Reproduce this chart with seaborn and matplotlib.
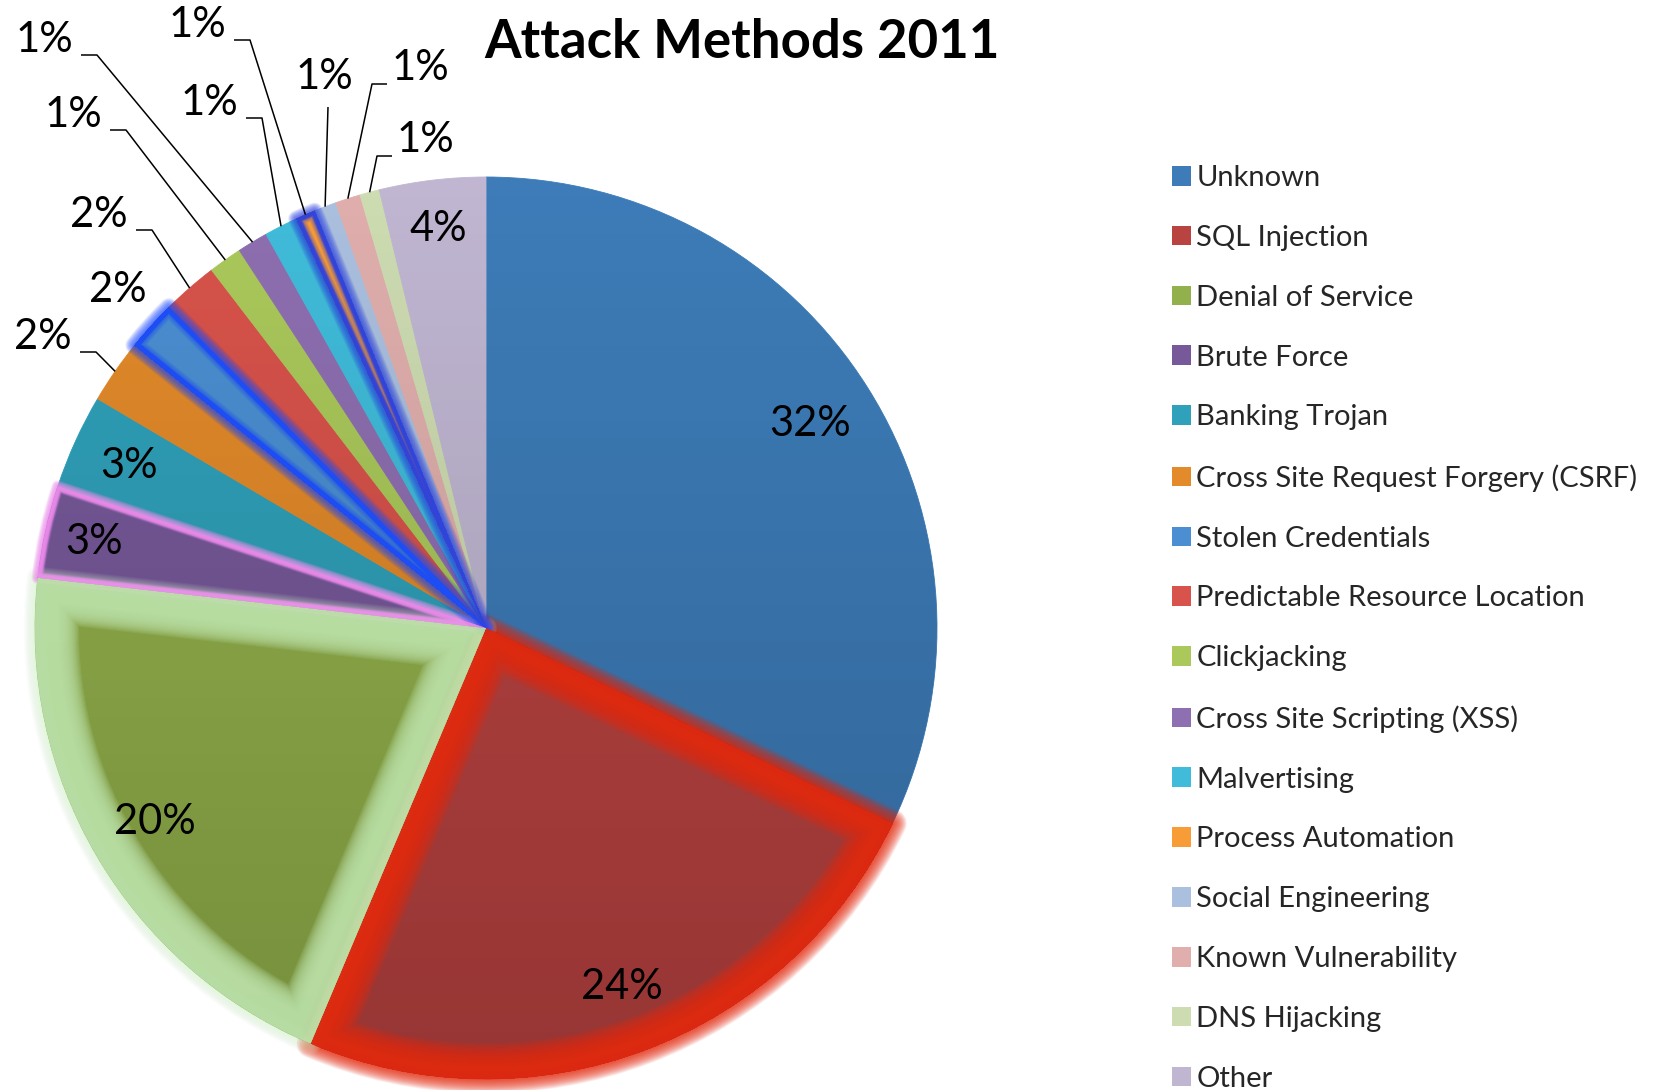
import numpy as np
import matplotlib
matplotlib.use("Agg")
import matplotlib.pyplot as plt
from matplotlib.patches import Wedge, Circle, Patch
import seaborn as sns

# ---------------- data ----------------
categories = ["Unknown", "SQL Injection", "Denial of Service", "Brute Force",
              "Banking Trojan", "Cross Site Request Forgery (CSRF)",
              "Stolen Credentials", "Predictable Resource Location",
              "Clickjacking", "Cross Site Scripting (XSS)", "Malvertising",
              "Process Automation", "Social Engineering", "Known Vulnerability",
              "DNS Hijacking", "Other"]
shares = [32.1, 24.2, 20.4, 3.3, 3.4, 2.3, 1.8, 2.0, 1.2, 1.1, 1.2, 0.7,
          0.8, 0.9, 0.7, 3.8]
colors = ["#3D7CB8", "#B94341", "#92B04B", "#77599A", "#2FA1BA", "#E38A2A",
          "#4B8FD2", "#D8534B", "#ABC95B", "#8E6FB1", "#40BCDA", "#F79C37",
          "#ABC0DF", "#E0AFAD", "#CEDCB2", "#C0B6D2"]
title = "Attack Methods 2011"

sns.set_theme(style="white")
plt.rcParams['font.family'] = ['Lato', 'DejaVu Sans']
palette = sns.color_palette(colors)

W, H = 1656, 1090
fig = plt.figure(figsize=(W / 100, H / 100), dpi=100)
CX, CY, R = 486, 628, 451
ax = fig.add_axes([(CX - R) / W, (H - CY - R) / H, 2 * R / W, 2 * R / H])


def px(x, y):
    return ((x - CX) / R, (CY - y) / R)


wedges, _ = ax.pie(shares, colors=palette, startangle=90, counterclock=False,
                   radius=1.0, center=(0, 0), frame=False,
                   wedgeprops=dict(linewidth=0.6))
ax.set_xlim(-1, 1)
ax.set_ylim(-1, 1)
ax.set_aspect("auto")
ax.axis("off")
for w, c in zip(wedges, palette):
    w.set_edgecolor(c)
    w.set_zorder(1)

# vertical shading (lighter on top, darker at the bottom)
grad = np.linspace(0, 1, 256).reshape(-1, 1)
shade = np.zeros((256, 1, 4))
shade[..., 3] = 0.19 * grad
img = ax.imshow(shade, extent=[-1, 1, -1, 1], origin="upper", aspect="auto",
                zorder=2, interpolation="bilinear")
img.set_clip_path(Circle((0, 0), 1.0, transform=ax.transData))
ax.set_xlim(-1, 1)
ax.set_ylim(-1, 1)

PT = 72 / 100  # points per pixel


def outline(w, lw, col, alpha, z, clip=None):
    g = Wedge(w.center, w.r, w.theta1, w.theta2, facecolor="none",
              edgecolor=col, linewidth=lw, alpha=alpha, joinstyle="round",
              zorder=z, clip_on=clip is not None)
    ax.add_patch(g)
    if clip is not None:
        g.set_clip_path(clip)


# glow effects: outer (px, colour, alpha/step) and inner (solid px, fade px, colour, alpha/step)
effects = {
    "SQL Injection": dict(outer=(14, "#E8280C", 0.07), inner=(10, 26, "#E22A10", 0.13)),
    "Denial of Service": dict(outer=(11, "#D6F6CE", 0.04), inner=(22, 22, "#BDE3AA", 0.13)),
    "Brute Force": dict(outer=(6, "#F090F0", 0.08), inner=(2, 3, "#F090F0", 0.1)),
    "Stolen Credentials": dict(outer=(9, "#1E4CFF", 0.06), inner=(2, 3, "#1E4CFF", 0.1)),
    "Process Automation": dict(outer=(8, "#2E44E6", 0.06), inner=(2, 3, "#2E44E6", 0.1)),
}
N = 20
for name in ["SQL Injection", "Denial of Service", "Brute Force",
             "Stolen Credentials", "Process Automation"]:
    eff = effects[name]
    w = wedges[categories.index(name)]
    d, col, a = eff["outer"]
    for i in range(N):
        lw = 2 * d * PT * (1 - i / N) + 0.5
        outline(w, lw, col, a, 3)
    s, f, col, a = eff["inner"]
    for i in range(N):
        lw = 2 * PT * (s + f * (1 - i / N))
        outline(w, lw, col, a, 3.5, clip=w)

# percentage labels
pct_labels = [f"{round(v):d}%" for v in shares]
inside = {"Unknown": 0.85, "SQL Injection": 0.85, "Denial of Service": 0.85,
          "Brute Force": 0.89, "Banking Trojan": 0.87, "Other": 0.89}
outside = {
    "Cross Site Scripting (XSS)": (44, 40, "L"),
    "Clickjacking": (73, 115, "L"),
    "Process Automation": (197, 25, "L"),
    "Malvertising": (209, 103, "L"),
    "Social Engineering": (324, 77, "T"),
    "Known Vulnerability": (420, 68, "R"),
    "DNS Hijacking": (425, 140, "R"),
    "Predictable Resource Location": (99, 215, "L"),
    "Cross Site Request Forgery (CSRF)": (43, 337, "L"),
    "Stolen Credentials": (118, 290, None),
}
FS = 30
for i, name in enumerate(categories):
    w = wedges[i]
    mid = np.deg2rad((w.theta1 + w.theta2) / 2)
    edge = (np.cos(mid), np.sin(mid))
    if name in inside:
        r = inside[name]
        ax.text(r * np.cos(mid), r * np.sin(mid), pct_labels[i], ha="center",
                va="center", fontsize=FS, color="black", zorder=6)
    else:
        x, y, kind = outside[name]
        tx, ty = px(x, y)
        ax.text(tx, ty, pct_labels[i], ha="center", va="center", fontsize=FS,
                color="black", zorder=6, clip_on=False)
        if kind == "L":
            pts = [px(x + 37, y + 15), px(x + 53, y + 15), edge]
        elif kind == "R":
            pts = [px(x - 33, y + 16), px(x - 48, y + 16), edge]
        elif kind == "T":
            pts = [px(x + 4, y + 30), edge]
        else:
            continue
        xs, ys = zip(*pts)
        ax.plot(xs, ys, color="black", lw=1.1, zorder=5, clip_on=False,
                solid_capstyle="butt")

# title
fig.text(742 / W, 1 - 43 / H, title, ha="center", va="center", fontsize=38,
         fontweight="bold", color="black")

# legend
handles = [Patch(facecolor=c, edgecolor="none") for c in palette]
fig.legend(handles, categories, loc="upper left",
           bbox_to_anchor=(1172 / W, 1 - 165 / H), frameon=False,
           fontsize=21, handlelength=0.66, handleheight=0.66,
           handletextpad=0.18, labelspacing=1.16, borderpad=0,
           borderaxespad=0)

fig.savefig("out.png", dpi=100, facecolor="white")
